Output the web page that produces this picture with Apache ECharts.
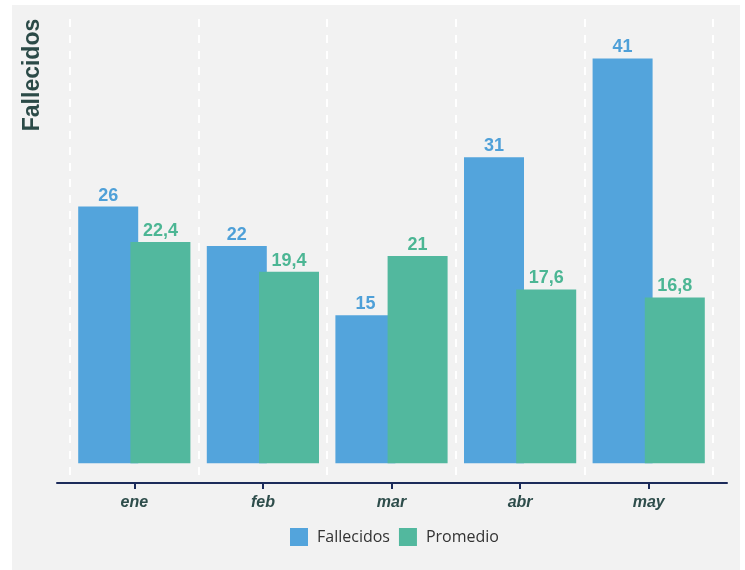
<!DOCTYPE html>
<html>
<head>
<meta charset="utf-8">
<script src="https://cdn.jsdelivr.net/npm/echarts@6/dist/echarts.min.js"></script>
<style>
html,body{margin:0;padding:0;background:#fff;}
#c{width:745px;height:570px;}
</style>
</head>
<body>
<div id="c"></div>
<script>
const categories = ['ene', 'feb', 'mar', 'abr', 'may'];
const fallecidos = [26, 22, 15, 31, 41];
const promedio = [22.4, 19.4, 21, 17.6, 16.8];
const seriesNames = ['Fallecidos', 'Promedio'];
const yTitle = 'Fallecidos';

const BLUE = '#53a4dc';
const GREEN = '#52b89e';
const fmt = v => String(v.value).replace('.', ',');

const chart = echarts.init(document.getElementById('c'), null, {renderer: 'canvas'});
chart.setOption({
  backgroundColor: '#ffffff',
  animation: false,
  graphic: [
    {type: 'rect', z: -100, shape: {x: 12, y: 5, width: 728, height: 565}, style: {fill: '#f2f2f2'}},
    {type: 'text', x: 33, y: 75, rotation: Math.PI / 2,
     style: {text: yTitle, font: 'bold 23px "Liberation Sans", Arial, sans-serif', fill: '#2b4a47', align: 'center', verticalAlign: 'middle'}}
  ],
  grid: [
    {left: 70, right: 32, top: 19, bottom: 87},
    {left: 57, right: 18, top: 19, bottom: 87}
  ],
  legend: {
    data: seriesNames,
    top: 523,
    left: 285,
    itemWidth: 18,
    itemHeight: 18,
    itemGap: 9,
    icon: 'rect',
    textStyle: {fontFamily: '"Open Sans", sans-serif', fontSize: 16, color: '#333', padding: [0, 0, 0, 4]}
  },
  xAxis: [
    {
      type: 'category', data: categories, gridIndex: 1,
      axisLine: {show: true, onZero: false, lineStyle: {color: '#1c2b5a', width: 2}},
      axisTick: {show: false}, axisLabel: {show: false}, splitLine: {show: false}
    },
    {
      type: 'category', data: categories, gridIndex: 0, z: 5,
      axisLine: {show: true, onZero: false, lineStyle: {color: 'rgba(0,0,0,0)', width: 2}},
      axisTick: {show: true, alignWithLabel: true, length: 6, lineStyle: {color: '#1c2b5a', width: 2}},
      axisLabel: {color: '#2e4d4b', fontSize: 16, fontStyle: 'italic', fontWeight: 'bold', fontFamily: '"Liberation Sans", Arial, sans-serif', margin: 12},
      splitLine: {show: true, lineStyle: {color: '#ffffff', width: 2, type: [8, 8]}}
    }
  ],
  yAxis: [
    {type: 'value', gridIndex: 0, min: -2, max: 45, show: false, splitLine: {show: false}},
    {type: 'value', gridIndex: 1, min: -2, max: 45, show: false, splitLine: {show: false}}
  ],
  series: [
    {
      name: seriesNames[0], type: 'bar', data: fallecidos,
      xAxisIndex: 1, yAxisIndex: 0,
      barWidth: 60, barGap: '-13%',
      itemStyle: {color: BLUE},
      label: {show: true, position: 'top', distance: 2, formatter: fmt, color: '#4fa0d8', fontSize: 18, fontWeight: 'bold', fontFamily: '"Liberation Sans", Arial, sans-serif'}
    },
    {
      name: seriesNames[1], type: 'bar', data: promedio,
      xAxisIndex: 1, yAxisIndex: 0,
      barWidth: 60, barGap: '-13%',
      itemStyle: {color: GREEN},
      label: {show: true, position: 'top', distance: 2, formatter: fmt, color: '#4cb694', fontSize: 18, fontWeight: 'bold', fontFamily: '"Liberation Sans", Arial, sans-serif'}
    }
  ]
});
</script>
</body>
</html>
